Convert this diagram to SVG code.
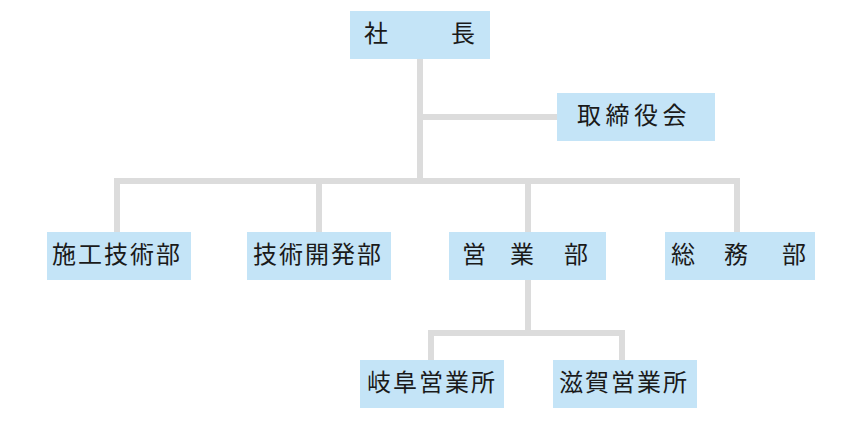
<svg xmlns="http://www.w3.org/2000/svg" width="861" height="421" viewBox="0 0 861 421">
<style>
.box{fill:#c4e4f7}
.ln{stroke:#dcdcdc;stroke-width:6;fill:none}
.t{font-family:"Noto Sans CJK JP","Noto Sans CJK SC",sans-serif;font-size:24px;fill:#1a1a1a}
</style>
<rect width="861" height="421" fill="#ffffff"/>
<g id="connectors">
<path class="ln" d="M420 59V181M420 117H557M117 232V181H737V232M319 181V232M528 181V232M528 280V333M431 360V333H622V360"/>
</g>
<g id="president"><rect class="box" x="350" y="11" width="140" height="48"/><text class="t" x="364 451" y="42">社長</text></g>
<g id="board"><rect class="box" x="557" y="93" width="158" height="48"/><text class="t" x="577" y="124" letter-spacing="4.5">取締役会</text></g>
<g id="construction"><rect class="box" x="47" y="232" width="144" height="48"/><text class="t" x="52" y="263" letter-spacing="2">施工技術部</text></g>
<g id="development"><rect class="box" x="247" y="232" width="144" height="48"/><text class="t" x="253" y="263" letter-spacing="2">技術開発部</text></g>
<g id="sales"><rect class="box" x="449" y="232" width="157" height="48"/><text class="t" x="462 510 564" y="263">営業部</text></g>
<g id="general"><rect class="box" x="665" y="232" width="150" height="48"/><text class="t" x="671 724 782" y="263">総務部</text></g>
<g id="gifu"><rect class="box" x="360" y="360" width="144" height="48"/><text class="t" x="367" y="391" letter-spacing="2">岐阜営業所</text></g>
<g id="shiga"><rect class="box" x="553" y="360" width="144" height="48"/><text class="t" x="559" y="391" letter-spacing="2">滋賀営業所</text></g>
</svg>
